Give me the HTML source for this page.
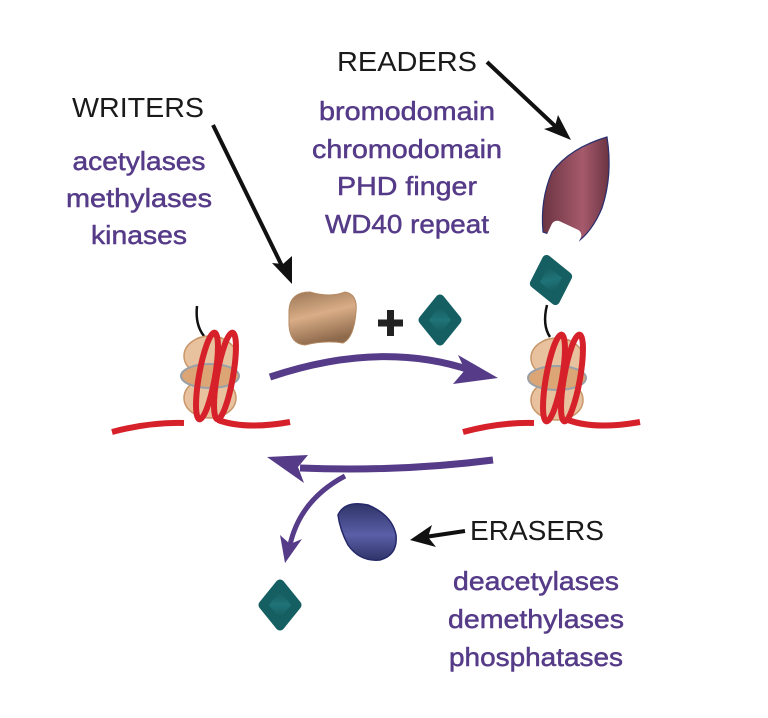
<!DOCTYPE html>
<html><head><meta charset="utf-8"><style>html,body{margin:0;padding:0;background:#fff}svg{display:block}</style></head>
<body>
<svg width="768" height="718" viewBox="0 0 768 718" xmlns="http://www.w3.org/2000/svg" font-family="Liberation Sans, sans-serif">
<defs>
<linearGradient id="tan" x1="0" y1="0" x2="0.3" y2="1"><stop offset="0" stop-color="#9a7656"/><stop offset="0.5" stop-color="#d9ad86"/><stop offset="1" stop-color="#8e6a4c"/></linearGradient>
<linearGradient id="teal" x1="0" y1="0" x2="0" y2="1"><stop offset="0" stop-color="#10504f"/><stop offset="0.5" stop-color="#1f7378"/><stop offset="1" stop-color="#0f4c4b"/></linearGradient>
<linearGradient id="maroon" x1="0" y1="0" x2="1" y2="0"><stop offset="0" stop-color="#6b3442"/><stop offset="0.6" stop-color="#a65a6c"/><stop offset="1" stop-color="#6b3442"/></linearGradient>
<linearGradient id="blue" x1="0" y1="0" x2="0" y2="1"><stop offset="0" stop-color="#2f3468"/><stop offset="0.55" stop-color="#5a5fa8"/><stop offset="1" stop-color="#2f3468"/></linearGradient>
<g id="nuc">
 <ellipse cx="0" cy="-20" rx="26" ry="20" fill="#e8c29e" stroke="#c99669" stroke-width="1.5"/>
 <ellipse cx="0" cy="22" rx="26" ry="20" fill="#e8c29e" stroke="#c99669" stroke-width="1.5"/>
 <ellipse cx="0" cy="0" rx="29" ry="12" fill="#dca575" stroke="#9aa0a8" stroke-width="2"/>
 <ellipse cx="-3" cy="0" rx="8" ry="44" transform="rotate(10 -3 0)" fill="none" stroke="#d6202a" stroke-width="6"/>
 <ellipse cx="15" cy="0" rx="8" ry="44" transform="rotate(10 15 0)" fill="none" stroke="#d6202a" stroke-width="6"/>
</g>
<g id="dia">
 <path d="M0 -21 L17 0 L0 21 L-17 0Z" fill="url(#teal)" stroke="#155f62" stroke-width="9" stroke-linejoin="round"/>
</g>
</defs>

<!-- left nucleosome -->
<path d="M197 306 Q195 325 204 336" fill="none" stroke="#111" stroke-width="2.5"/>
<path d="M112 432 Q150 422 184 423" fill="none" stroke="#d6202a" stroke-width="6"/>
<path d="M218 420 Q245 430 290 422" fill="none" stroke="#d6202a" stroke-width="6"/>
<use href="#nuc" x="210" y="376"/>

<!-- right nucleosome -->
<path d="M547 305 Q542 325 550 337" fill="none" stroke="#111" stroke-width="2.5"/>
<path d="M463 432 Q500 422 534 423" fill="none" stroke="#d6202a" stroke-width="6"/>
<path d="M568 420 Q595 430 640 422" fill="none" stroke="#d6202a" stroke-width="6"/>
<use href="#nuc" x="557" y="378"/>

<!-- writer blob -->
<path d="M289 310 Q290 292 310 292 Q330 298 345 292 Q358 294 356 312 Q354 338 343 343 Q325 340 305 345 Q290 344 289 325Z" fill="url(#tan)" stroke="#b58a63" stroke-width="1"/>
<!-- plus -->
<path d="M378 323 H403 M390.5 310 V336" stroke="#222" stroke-width="7"/>
<!-- teal diamond -->
<use href="#dia" x="440" y="320"/>

<!-- reader -->
<path d="M607 137 Q613 175 602 208 Q592 232 576 243 L543 232 Q540 200 552 172 Q570 148 607 137Z" fill="url(#maroon)" stroke="#2a2f6e" stroke-width="1.2"/>
<rect x="546" y="224" width="32" height="32" rx="6" transform="rotate(25 562 240)" fill="#fff"/>
<use href="#dia" x="0" y="0" transform="translate(551 280) rotate(-12)"/>

<!-- eraser blob -->
<path d="M338 515 Q345 500 368 505 Q392 515 396 535 Q398 555 380 560 Q360 562 348 545 Q340 530 338 515Z" fill="url(#blue)" stroke="#25296a" stroke-width="1.5"/>
<!-- teal diamond bottom -->
<use href="#dia" x="280" y="605"/>

<!-- purple arrows -->
<path d="M270 377 Q380 340 470 370" fill="none" stroke="#553b88" stroke-width="7"/>
<path d="M498 378 L453 384 L465 370 L458 355Z" fill="#553b88"/>
<path d="M493 460 Q400 472 300 468" fill="none" stroke="#553b88" stroke-width="7"/>
<path d="M267 457 L308 455 L298 467 L304 483Z" fill="#553b88"/>
<path d="M345 476 Q300 500 290 545" fill="none" stroke="#553b88" stroke-width="5"/>
<path d="M285 563 L280 535 L290 544 L302 539Z" fill="#553b88"/>

<!-- black arrows -->
<path d="M213 125 L282 266" stroke="#111" stroke-width="4"/>
<path d="M292 284 L272 263 L283 264 L292 256Z" fill="#111"/>
<path d="M487 62 L555 126" stroke="#111" stroke-width="4"/>
<path d="M571 140 L544 129 L555 126 L558 115Z" fill="#111"/>
<path d="M465 531 L425 537" stroke="#111" stroke-width="4"/>
<path d="M410 540 L432 525 L428 537 L436 547Z" fill="#111"/>

<!-- text -->
<g font-size="28" fill="#1a1a1a">
<text x="72" y="117" textLength="132" lengthAdjust="spacingAndGlyphs">WRITERS</text>
<text x="337" y="71" textLength="140" lengthAdjust="spacingAndGlyphs">READERS</text>
<text x="470" y="540" textLength="134" lengthAdjust="spacingAndGlyphs">ERASERS</text>
</g>
<g font-size="26" fill="#553b88" stroke="#553b88" stroke-width="0.5" text-anchor="middle" lengthAdjust="spacingAndGlyphs">
<text x="139" y="170" textLength="133" lengthAdjust="spacingAndGlyphs">acetylases</text>
<text x="139" y="207" textLength="146" lengthAdjust="spacingAndGlyphs">methylases</text>
<text x="139" y="244" textLength="96" lengthAdjust="spacingAndGlyphs">kinases</text>
<text x="407" y="120" textLength="176" lengthAdjust="spacingAndGlyphs">bromodomain</text>
<text x="407" y="158" textLength="190" lengthAdjust="spacingAndGlyphs">chromodomain</text>
<text x="407" y="195" textLength="140" lengthAdjust="spacingAndGlyphs">PHD finger</text>
<text x="407" y="233" textLength="164" lengthAdjust="spacingAndGlyphs">WD40 repeat</text>
<text x="536" y="590" textLength="166" lengthAdjust="spacingAndGlyphs">deacetylases</text>
<text x="536" y="628" textLength="176" lengthAdjust="spacingAndGlyphs">demethylases</text>
<text x="536" y="666" textLength="174" lengthAdjust="spacingAndGlyphs">phosphatases</text>
</g>
</svg>
</body></html>
